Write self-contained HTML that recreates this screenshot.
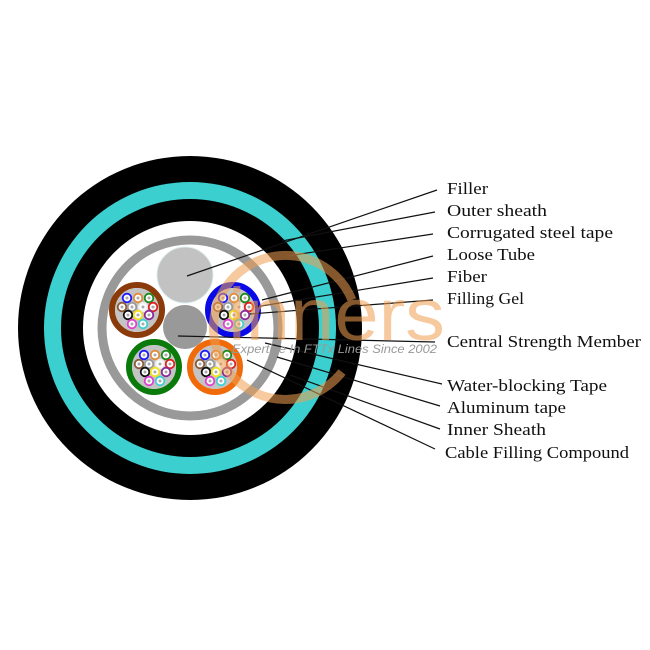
<!DOCTYPE html>
<html><head><meta charset="utf-8"><style>html,body{margin:0;padding:0;background:#fff}svg{display:block}</style></head>
<body>
<svg width="650" height="650" viewBox="0 0 650 650" xmlns="http://www.w3.org/2000/svg">
<defs>
<g id="fibers">
<circle r="22" fill="#c4c4c4"/>
<g stroke-width="1.8">
<circle cx="-10" cy="-12" r="4.3" fill="#fff" stroke="#1a1aff"/>
<circle cx="1" cy="-12" r="4.3" fill="#fff" stroke="#e08a3a"/>
<circle cx="12" cy="-12" r="4.3" fill="#fff" stroke="#1a8a1a"/>
<circle cx="-15" cy="-3" r="4.3" fill="#fff" stroke="#8a5a3a"/>
<circle cx="-5" cy="-3" r="4.3" fill="#fff" stroke="#999"/>
<circle cx="6" cy="-3" r="4.3" fill="#fff" stroke="#eee"/>
<circle cx="16" cy="-3" r="4.3" fill="#fff" stroke="#e02020"/>
<circle cx="-9" cy="5" r="4.3" fill="#fff" stroke="#111"/>
<circle cx="1" cy="5" r="4.3" fill="#fff" stroke="#f0e020"/>
<circle cx="12" cy="5" r="4.3" fill="#fff" stroke="#8a2a9a"/>
<circle cx="-5" cy="14" r="4.3" fill="#fff" stroke="#e040d0"/>
<circle cx="6" cy="14" r="4.3" fill="#fff" stroke="#40d0d0"/>
</g>
<g fill="#aaa">
<circle cx="-10" cy="-12" r="1.5"/><circle cx="1" cy="-12" r="1.5"/><circle cx="12" cy="-12" r="1.5"/>
<circle cx="-15" cy="-3" r="1.5"/><circle cx="-5" cy="-3" r="1.5"/><circle cx="6" cy="-3" r="1.5"/><circle cx="16" cy="-3" r="1.5"/>
<circle cx="-9" cy="5" r="1.5"/><circle cx="1" cy="5" r="1.5"/><circle cx="12" cy="5" r="1.5"/>
<circle cx="-5" cy="14" r="1.5"/><circle cx="6" cy="14" r="1.5"/>
</g>
</g>
</defs>
<circle cx="190" cy="328" r="172" fill="#000"/>
<circle cx="190" cy="328" r="146" fill="#3ccfcf"/>
<circle cx="190" cy="328" r="129" fill="#000"/>
<circle cx="190" cy="328" r="107" fill="#fff"/>
<circle cx="190" cy="328" r="88" fill="none" stroke="#999" stroke-width="9"/>
<circle cx="185" cy="275" r="28" fill="#c2c2c2" stroke="#ddeeee" stroke-width="1"/>
<circle cx="185" cy="327" r="22" fill="#999"/>
<circle cx="137" cy="310" r="25" fill="none" stroke="#8b3a0a" stroke-width="6"/>
<use href="#fibers" x="137" y="310"/>
<circle cx="233" cy="310" r="25" fill="none" stroke="#0a0ae8" stroke-width="6"/>
<use href="#fibers" x="233" y="310"/>
<circle cx="154" cy="367" r="25" fill="none" stroke="#0a7a0a" stroke-width="6"/>
<use href="#fibers" x="154" y="367"/>
<circle cx="215" cy="367" r="25" fill="none" stroke="#f06a0a" stroke-width="6"/>
<use href="#fibers" x="215" y="367"/>
<g stroke="#111" stroke-width="1.2">
<line x1="437" y1="190" x2="187" y2="276"/>
<line x1="435" y1="212" x2="282" y2="241"/>
<line x1="433" y1="234" x2="287" y2="256"/>
<line x1="433" y1="256" x2="262" y2="300"/>
<line x1="433" y1="278" x2="255" y2="307"/>
<line x1="433" y1="300" x2="250" y2="314"/>
<line x1="435" y1="342" x2="178" y2="336"/>
<line x1="442" y1="384" x2="265" y2="343"/>
<line x1="440" y1="406" x2="277" y2="357"/>
<line x1="440" y1="429" x2="290" y2="375"/>
<line x1="435" y1="449" x2="247" y2="360"/>
</g>
<g opacity="0.55">
<path d="M 352 300 A 72 72 0 1 0 342 372" fill="none" stroke="#f0a050" stroke-width="9"/>
<text x="228" y="340" font-family="Liberation Sans, sans-serif" font-size="74" fill="#f0a050" textLength="217" lengthAdjust="spacingAndGlyphs">inners</text>
</g>
<text x="232" y="353" font-family="Liberation Sans, sans-serif" font-style="italic" font-size="12" fill="#999" textLength="205" lengthAdjust="spacingAndGlyphs">Expertise In FTTx Lines Since 2002</text>
<g font-family="Liberation Serif, serif" font-size="16.5" fill="#111">
<text x="447" y="194" textLength="41" lengthAdjust="spacingAndGlyphs">Filler</text>
<text x="447" y="216" textLength="100" lengthAdjust="spacingAndGlyphs">Outer sheath</text>
<text x="447" y="238" textLength="166" lengthAdjust="spacingAndGlyphs">Corrugated steel tape</text>
<text x="447" y="260" textLength="88" lengthAdjust="spacingAndGlyphs">Loose Tube</text>
<text x="447" y="282" textLength="40" lengthAdjust="spacingAndGlyphs">Fiber</text>
<text x="447" y="304" textLength="77" lengthAdjust="spacingAndGlyphs">Filling Gel</text>
<text x="447" y="347" textLength="194" lengthAdjust="spacingAndGlyphs">Central Strength Member</text>
<text x="447" y="391" textLength="160" lengthAdjust="spacingAndGlyphs">Water-blocking Tape</text>
<text x="447" y="413" textLength="119" lengthAdjust="spacingAndGlyphs">Aluminum tape</text>
<text x="447" y="435" textLength="99" lengthAdjust="spacingAndGlyphs">Inner Sheath</text>
<text x="445" y="458" textLength="184" lengthAdjust="spacingAndGlyphs">Cable Filling Compound</text>
</g>
</svg>
</body></html>
